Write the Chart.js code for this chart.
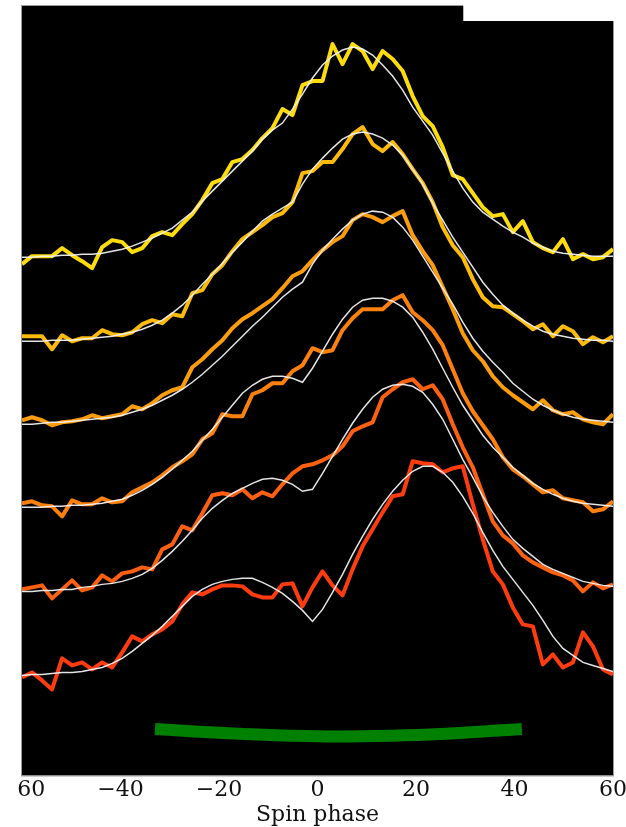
<!DOCTYPE html>
<html>
<head>
<meta charset="utf-8">
<script src="https://cdn.jsdelivr.net/npm/chart.js@4.4.1/dist/chart.umd.min.js"></script>
<style>
    html, body { margin: 0; padding: 0; background: #fff; overflow: hidden; }
    /* the figure is cut a little left of the frame, like the original crop */
    #wrap { position: absolute; left: -40px; top: 0; width: 706px; height: 827px; clip-path: inset(0 0 0 57px); }
</style>
</head>
<body>
<div id="wrap"><canvas id="spin" width="706" height="827"></canvas></div>
<script>
"use strict";

// spin phase bins (degrees)
var phase = [-60.00, -57.97, -55.93, -53.90, -51.86, -49.83, -47.80, -45.76, -43.73, -41.69,
    -39.66, -37.63, -35.59, -33.56, -31.53, -29.49, -27.46, -25.42, -23.39, -21.36,
    -19.32, -17.29, -15.25, -13.22, -11.19, -9.15, -7.12, -5.08, -3.05, -1.02,
    1.02, 3.05, 5.08, 7.12, 9.15, 11.19, 13.22, 15.25, 17.29, 19.32,
    21.36, 23.39, 25.42, 27.46, 29.49, 31.53, 33.56, 35.59, 37.63, 39.66,
    41.69, 43.73, 45.76, 47.80, 49.83, 51.86, 53.90, 55.93, 57.97, 60.00];

// observed profiles, offset for display (top to bottom)
var obs1 = [5.11, 5.19, 5.19, 5.19, 5.27, 5.20, 5.14, 5.07, 5.28, 5.35,
    5.33, 5.23, 5.27, 5.39, 5.43, 5.40, 5.51, 5.61, 5.75, 5.92,
    5.96, 6.13, 6.16, 6.25, 6.37, 6.47, 6.66, 6.60, 6.90, 6.94,
    6.94, 7.31, 7.11, 7.31, 7.24, 7.06, 7.24, 7.16, 7.04, 6.79,
    6.59, 6.49, 6.28, 6.00, 5.96, 5.82, 5.68, 5.59, 5.61, 5.43,
    5.54, 5.33, 5.27, 5.23, 5.36, 5.16, 5.21, 5.16, 5.18, 5.26];
var obs2 = [4.39, 4.39, 4.39, 4.26, 4.40, 4.34, 4.37, 4.37, 4.45, 4.41,
    4.40, 4.43, 4.51, 4.55, 4.52, 4.61, 4.59, 4.82, 4.85, 5.01,
    5.10, 5.24, 5.36, 5.43, 5.50, 5.58, 5.62, 5.73, 6.02, 6.04,
    6.13, 6.13, 6.26, 6.41, 6.48, 6.31, 6.24, 6.33, 6.21, 6.06,
    5.92, 5.73, 5.48, 5.30, 5.18, 4.96, 4.78, 4.69, 4.68, 4.61,
    4.54, 4.46, 4.51, 4.39, 4.49, 4.44, 4.31, 4.38, 4.33, 4.39];
var obs3 = [3.55, 3.58, 3.55, 3.50, 3.53, 3.54, 3.56, 3.60, 3.57, 3.59,
    3.61, 3.69, 3.66, 3.72, 3.80, 3.85, 3.88, 4.08, 4.16, 4.26,
    4.35, 4.47, 4.56, 4.62, 4.69, 4.76, 4.87, 4.99, 5.04, 5.15,
    5.25, 5.33, 5.39, 5.55, 5.61, 5.58, 5.53, 5.59, 5.64, 5.40,
    5.24, 5.10, 4.88, 4.66, 4.42, 4.25, 4.14, 3.99, 3.88, 3.80,
    3.73, 3.66, 3.75, 3.65, 3.61, 3.63, 3.56, 3.53, 3.51, 3.61];
var obs4 = [2.72, 2.74, 2.70, 2.69, 2.59, 2.75, 2.71, 2.71, 2.77, 2.73,
    2.74, 2.83, 2.88, 2.93, 3.00, 3.08, 3.14, 3.21, 3.36, 3.42,
    3.61, 3.59, 3.59, 3.81, 3.85, 3.92, 3.92, 4.04, 4.10, 4.27,
    4.23, 4.25, 4.45, 4.57, 4.66, 4.66, 4.66, 4.75, 4.80, 4.63,
    4.55, 4.45, 4.30, 4.06, 3.82, 3.64, 3.50, 3.36, 3.18, 3.06,
    2.99, 2.91, 2.83, 2.85, 2.77, 2.75, 2.73, 2.64, 2.66, 2.74];
var obs5 = [1.86, 1.88, 1.90, 1.77, 1.86, 1.95, 1.85, 1.88, 2.00, 1.94,
    2.02, 2.04, 2.08, 2.06, 2.26, 2.31, 2.49, 2.45, 2.62, 2.80,
    2.82, 2.80, 2.86, 2.77, 2.83, 2.79, 2.91, 3.02, 3.09, 3.11,
    3.15, 3.20, 3.29, 3.44, 3.49, 3.53, 3.78, 3.86, 3.93, 3.96,
    3.86, 3.90, 3.76, 3.51, 3.28, 3.08, 2.81, 2.54, 2.40, 2.32,
    2.20, 2.13, 2.08, 2.03, 2.00, 1.95, 1.84, 1.93, 1.87, 1.91];
var obs6 = [0.98, 1.03, 0.95, 0.86, 1.17, 1.10, 1.13, 1.06, 1.13, 1.08,
    1.23, 1.39, 1.34, 1.41, 1.46, 1.54, 1.71, 1.83, 1.81, 1.86,
    1.90, 1.90, 1.89, 1.81, 1.78, 1.78, 1.91, 1.92, 1.69, 1.88,
    2.04, 1.90, 1.80, 2.06, 2.29, 2.46, 2.63, 2.79, 2.81, 3.14,
    3.12, 3.11, 3.03, 3.07, 3.09, 2.71, 2.36, 2.04, 1.91, 1.68,
    1.51, 1.49, 1.11, 1.21, 1.08, 1.13, 1.43, 1.29, 1.06, 1.01];

// model profiles (white)
var model1 = [5.18, 5.18, 5.19, 5.19, 5.20, 5.20, 5.21, 5.21, 5.22, 5.24,
    5.26, 5.29, 5.33, 5.37, 5.42, 5.47, 5.55, 5.63, 5.74, 5.84,
    5.94, 6.04, 6.14, 6.24, 6.36, 6.45, 6.52, 6.66, 6.81, 6.97,
    7.10, 7.19, 7.25, 7.28, 7.26, 7.20, 7.10, 6.99, 6.85, 6.68,
    6.54, 6.40, 6.22, 6.04, 5.87, 5.73, 5.63, 5.56, 5.49, 5.43,
    5.38, 5.32, 5.28, 5.24, 5.22, 5.21, 5.20, 5.19, 5.19, 5.19];
var model2 = [4.34, 4.34, 4.34, 4.35, 4.35, 4.35, 4.36, 4.37, 4.38, 4.39,
    4.41, 4.43, 4.46, 4.50, 4.55, 4.62, 4.70, 4.80, 4.91, 5.01,
    5.12, 5.23, 5.33, 5.44, 5.54, 5.61, 5.67, 5.73, 5.91, 6.06,
    6.17, 6.27, 6.36, 6.41, 6.43, 6.41, 6.37, 6.30, 6.20, 6.06,
    5.91, 5.72, 5.55, 5.38, 5.23, 5.08, 4.93, 4.81, 4.70, 4.62,
    4.55, 4.49, 4.44, 4.41, 4.39, 4.37, 4.36, 4.35, 4.35, 4.34];
var model3 = [3.51, 3.51, 3.52, 3.53, 3.53, 3.54, 3.55, 3.56, 3.57, 3.58,
    3.60, 3.63, 3.66, 3.70, 3.75, 3.80, 3.86, 3.93, 4.01, 4.10,
    4.19, 4.29, 4.39, 4.49, 4.58, 4.68, 4.78, 4.86, 4.93, 5.11,
    5.25, 5.36, 5.46, 5.55, 5.61, 5.64, 5.63, 5.58, 5.48, 5.35,
    5.19, 5.03, 4.87, 4.71, 4.53, 4.37, 4.24, 4.13, 4.03, 3.92,
    3.84, 3.76, 3.70, 3.65, 3.61, 3.58, 3.56, 3.55, 3.54, 3.53];
var model4 = [2.68, 2.68, 2.68, 2.69, 2.69, 2.70, 2.70, 2.71, 2.72, 2.74,
    2.76, 2.80, 2.85, 2.91, 2.98, 3.06, 3.15, 3.24, 3.35, 3.46,
    3.58, 3.70, 3.82, 3.90, 3.96, 3.99, 3.99, 3.97, 3.93, 4.07,
    4.24, 4.41, 4.56, 4.68, 4.75, 4.77, 4.77, 4.74, 4.68, 4.58,
    4.43, 4.26, 4.07, 3.88, 3.70, 3.55, 3.40, 3.28, 3.18, 3.08,
    3.00, 2.92, 2.86, 2.81, 2.77, 2.74, 2.72, 2.71, 2.70, 2.69];
var model5 = [1.84, 1.84, 1.85, 1.85, 1.86, 1.86, 1.88, 1.89, 1.91, 1.92,
    1.94, 1.97, 2.01, 2.07, 2.15, 2.24, 2.34, 2.45, 2.57, 2.67,
    2.75, 2.82, 2.87, 2.92, 2.96, 2.97, 2.95, 2.91, 2.84, 2.86,
    3.02, 3.19, 3.36, 3.52, 3.66, 3.78, 3.86, 3.90, 3.91, 3.89,
    3.83, 3.71, 3.56, 3.36, 3.16, 2.98, 2.79, 2.63, 2.49, 2.36,
    2.27, 2.19, 2.11, 2.06, 2.02, 1.98, 1.94, 1.92, 1.90, 1.89];
var model6 = [1.00, 1.01, 1.01, 1.02, 1.03, 1.03, 1.04, 1.06, 1.08, 1.12,
    1.17, 1.24, 1.32, 1.40, 1.49, 1.59, 1.69, 1.79, 1.86, 1.91,
    1.94, 1.96, 1.97, 1.97, 1.93, 1.88, 1.82, 1.74, 1.65, 1.54,
    1.66, 1.83, 2.01, 2.21, 2.39, 2.56, 2.71, 2.84, 2.95, 3.04,
    3.09, 3.09, 3.03, 2.93, 2.79, 2.62, 2.43, 2.25, 2.09, 1.96,
    1.83, 1.70, 1.55, 1.39, 1.27, 1.20, 1.13, 1.10, 1.07, 1.04];

// green arc under the profiles
var arcPhase = [-33, -25, -15, -5, 4, 15, 25, 35, 41.5];
var arcLevel = [0.465, 0.44, 0.415, 0.397, 0.39, 0.398, 0.415, 0.445, 0.465];

var xTicks = [-60, -40, -20, 0, 20, 40, 60];

var observed = [obs1, obs2, obs3, obs4, obs5, obs6];
var models = [model1, model2, model3, model4, model5, model6];
var colours = ['#fcdc0c', '#fcba0a', '#fb9c0c', '#fb800e', '#fc6010', '#ff3c10'];

// corner of the frame that is cut away (top right)
var NOTCH_PHASE = 29.6;
var NOTCH_LEVEL = 7.54;

function pairs(xs, ys) {
    return xs.map(function (x, i) { return {x: x, y: ys[i]}; });
}

var datasets = [];
models.forEach(function (m, i) {
    datasets.push({
        label: 'model ' + (i + 1),
        data: pairs(phase, m),
        borderColor: 'rgba(240,240,240,0.95)',
        borderWidth: 1.5,
        pointRadius: 0,
        tension: 0,
        order: 0
    });
});
observed.forEach(function (o, i) {
    datasets.push({
        label: 'profile ' + (i + 1),
        data: pairs(phase, o),
        borderColor: colours[i],
        borderWidth: 4,
        borderJoinStyle: 'round',
        pointRadius: 0,
        tension: 0,
        order: 1
    });
});
datasets.push({
    label: 'arc',
    data: pairs(arcPhase, arcLevel),
    borderColor: '#008000',
    borderWidth: 12,
    borderCapStyle: 'butt',
    pointRadius: 0,
    cubicInterpolationMode: 'monotone',
    order: 2
});

var framePlugin = {
    id: 'frame',
    beforeDatasetsDraw: function (chart) {
        var a = chart.chartArea, ctx = chart.ctx;
        ctx.save();
        ctx.fillStyle = '#000';
        ctx.fillRect(a.left, a.top, a.right - a.left, a.bottom - a.top);
        ctx.restore();
    },
    afterDatasetsDraw: function (chart) {
        var a = chart.chartArea, ctx = chart.ctx;
        var nx = chart.scales.x.getPixelForValue(NOTCH_PHASE);
        var ny = chart.scales.y.getPixelForValue(NOTCH_LEVEL);
        ctx.save();
        ctx.strokeStyle = '#9a9a9a';
        ctx.lineWidth = 1;
        ctx.strokeRect(a.left - 0.5, a.top + 0.5, a.right - a.left + 1, a.bottom - a.top);
        ctx.fillStyle = '#fff';
        ctx.fillRect(nx, 0, a.right - nx + 3, ny);
        ctx.restore();
    }
};

var serif = "'DejaVu Serif', 'Liberation Serif', serif";

new Chart(document.getElementById('spin').getContext('2d'), {
    type: 'line',
    data: {datasets: datasets},
    options: {
        responsive: false,
        animation: false,
        devicePixelRatio: 1,
        layout: {padding: {left: 62, right: 53, top: 5, bottom: 1}},
        plugins: {legend: {display: false}, tooltip: {enabled: false}},
        scales: {
            x: {
                type: 'linear',
                min: -60,
                max: 60,
                afterBuildTicks: function (scale) {
                    scale.ticks = xTicks.map(function (v) { return {value: v}; });
                },
                // fixed axis band so the frame ends where the original does
                afterFit: function (scale) {
                    scale.height = 50.5;
                },
                grid: {display: false, drawTicks: false},
                border: {display: false},
                ticks: {
                    autoSkip: false,
                    maxRotation: 0,
                    padding: 2,
                    color: '#111',
                    font: {family: serif, size: 22, lineHeight: 1.2},
                    callback: function (v) { return v < 0 ? '\u2212' + Math.abs(v) : String(v); }
                },
                title: {
                    display: true,
                    text: 'Spin phase',
                    color: '#111',
                    padding: {top: 0, bottom: 0},
                    font: {family: serif, size: 22, lineHeight: 0.98}
                }
            },
            y: {
                type: 'linear',
                display: false,
                min: 0,
                max: 7.7
            }
        }
    },
    plugins: [framePlugin]
});
</script>
</body>
</html>
